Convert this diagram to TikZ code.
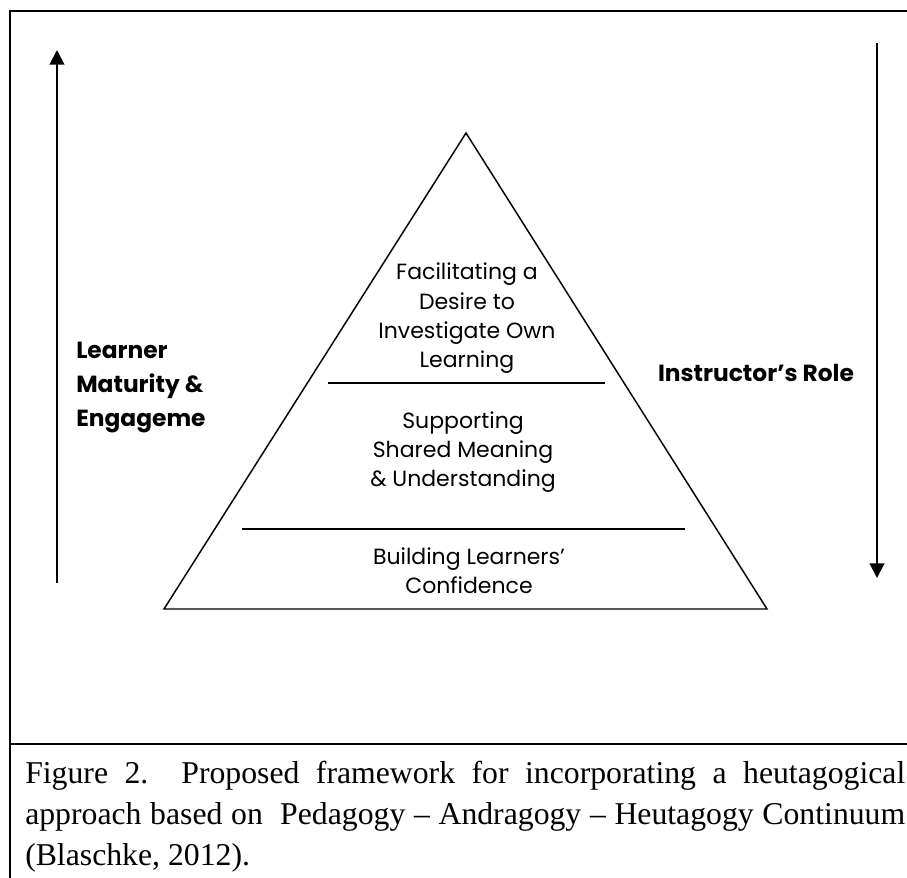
\documentclass[tikz,border=0pt]{standalone}
\usepackage{fontspec}
\setmainfont{Liberation Serif}
\newfontfamily\gothic{Poppins}
\usetikzlibrary{arrows.meta}

\begin{document}
\begin{tikzpicture}[x=0.75pt,y=-0.75pt,
		  tier/.style={font=\gothic\fontsize{16.5}{22}\selectfont, align=center, inner sep=0pt},
		  side/.style={font=\gothic\bfseries\fontsize{17.5}{25.5}\selectfont, inner sep=0pt},
		  rule/.style={line width=1.5pt},
		  frame/.style={line width=1.9pt},
		  edge/.style={line width=1.1pt, line join=miter},
		  flow/.style={line width=1.5pt, -{Triangle[length=11pt,width=11pt]}}]
		  \useasboundingbox (0,0) rectangle (907,878);
		  % frame and caption
		  \draw[frame] (10,878) -- (10,11) -- (907,11);
		  \draw[frame] (10,744) -- (907,744);
		  \node[anchor=base west, inner sep=0pt, text width=660pt, align=justify,
		    font=\fontsize{23.8}{31}\selectfont] (caption) at (25,783)
		    {Figure 2.\ \ Proposed framework for incorporating a heutagogical\linebreak
		     approach based on\ \ Pedagogy -- Andragogy -- Heutagogy Continuum\linebreak
		     (Blaschke, 2012).};
		  % pyramid
		  \coordinate (apex) at (466,133);
		  \coordinate (baseL) at (164,609);
		  \coordinate (baseR) at (767,609);
		  \draw[edge] (baseL) -- (apex) -- (baseR) -- cycle;
		  \coordinate (cut1L) at (328,383);
		  \coordinate (cut1R) at (605,383);
		  \coordinate (cut2L) at (242,529);
		  \coordinate (cut2R) at (685,529);
		  \draw[rule] (cut1L) -- (cut1R);
		  \draw[rule] (cut2L) -- (cut2R);
		  \node[tier] (facilitate) at (467,318.5) {Facilitating a\\Desire to\\Investigate Own\\Learning};
		  \node[tier] (support) at (463,452) {Supporting\\Shared Meaning\\\& Understanding};
		  \node[tier] (build) at (469,570.5) {Building Learners’\\Confidence};
		  % side arrows
		  \coordinate (upFrom) at (57,583);
		  \coordinate (upTo) at (57,50);
		  \coordinate (downFrom) at (877,43);
		  \coordinate (downTo) at (877,578);
		  \draw[flow] (upFrom) -- (upTo);
		  \draw[flow] (downFrom) -- (downTo);
		  \node[side, anchor=west, align=left] (learner) at (76,388) {Learner\\Maturity \&\\Engageme};
		  \node[side] (instructor) at (756,373) {Instructor’s Role};
\end{tikzpicture}
\end{document}
